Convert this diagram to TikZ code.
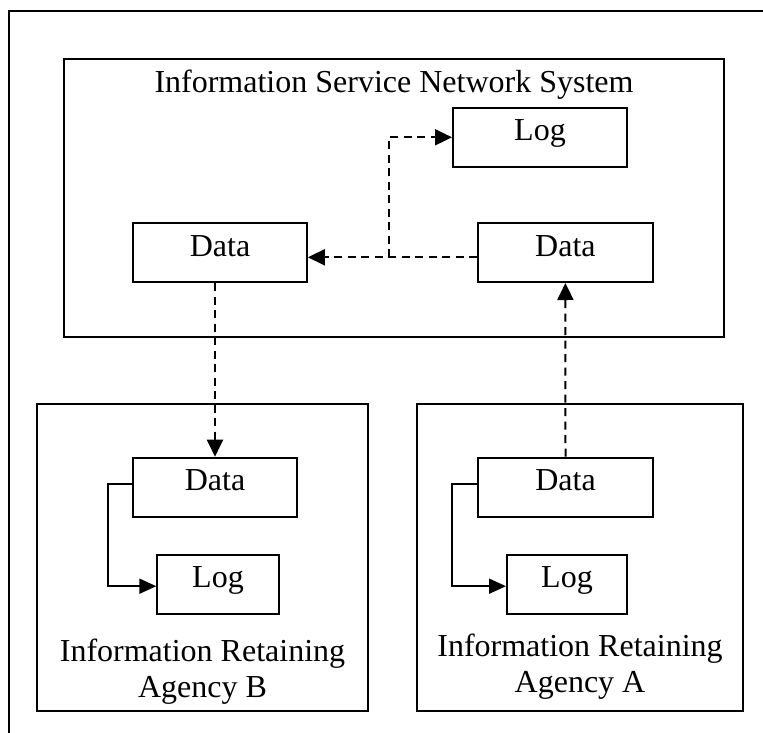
\documentclass[tikz,border=0pt]{standalone}
\usepackage{fontspec}
\setmainfont{Liberation Serif}
\usetikzlibrary{arrows.meta}
\begin{document}
\begin{tikzpicture}[x=1pt,y=-1pt,line width=2pt,
  txt/.style={font=\fontsize{32}{36}\selectfont},
  frame/.style={draw,inner sep=0pt},
  item/.style={draw,inner sep=0pt,txt,minimum height=59pt,text height=20pt,text depth=13pt},
  flow/.style={line width=2pt,dash pattern=on 8pt off 5.5pt,-{Triangle[length=17pt,width=16pt]}},
  link/.style={line width=1.8pt,-{Triangle[length=17pt,width=15pt]}}]
\useasboundingbox (0,0) rectangle (763,733);

% page frame (top and left edges)
\draw (9,733) -- (9,11) -- (770,11);

% containers
\node[frame,minimum width=660pt,minimum height=278pt] (isns) at (394,198) {};
\node[txt,anchor=base] (isnsT) at (394,93) {Information Service Network System};
\node[frame,minimum width=331.6pt,minimum height=306.7pt] (agB) at (202.5,557.7) {};
\node[txt,align=center] (agBT) at (202.5,672) {Information Retaining\\Agency B};
\node[frame,minimum width=326.6pt,minimum height=306.7pt] (agA) at (580,557.7) {};
\node[txt,align=center] (agAT) at (580,667) {Information Retaining\\Agency A};

% items
\node[item,minimum width=174pt] (logS) at (540,137.3) {Log};
\node[item,minimum width=174.7pt] (dataR) at (565.4,252.5) {Data};
\node[item,minimum width=173.7pt] (dataL) at (220,252.5) {Data};
\node[item,minimum width=164pt] (dB) at (215,487.2) {Data};
\node[item,minimum width=121.4pt] (lB) at (218,584.2) {Log};
\node[item,minimum width=174.4pt] (dA) at (565.5,487.2) {Data};
\node[item,minimum width=120pt] (lA) at (567,584.2) {Log};

% transfers
\coordinate (split) at (388.5,257.3);
\draw[flow] ([yshift=-4.8pt]dataR.west) -- ([yshift=-4.8pt]dataL.east);
\draw[flow] (split) |- (logS.west);
\draw[flow] (dataL.south -| dB.north) -- (dB.north);
\draw[flow] (dA.north) -- (dataR.south);
\draw[link] ([yshift=3pt]dB.west) -- ++(-24,0) |- ([yshift=-2pt]lB.west);
\draw[link] ([yshift=3pt]dA.west) -- ++(-25.5,0) |- ([yshift=-2pt]lA.west);
\end{tikzpicture}
\end{document}
